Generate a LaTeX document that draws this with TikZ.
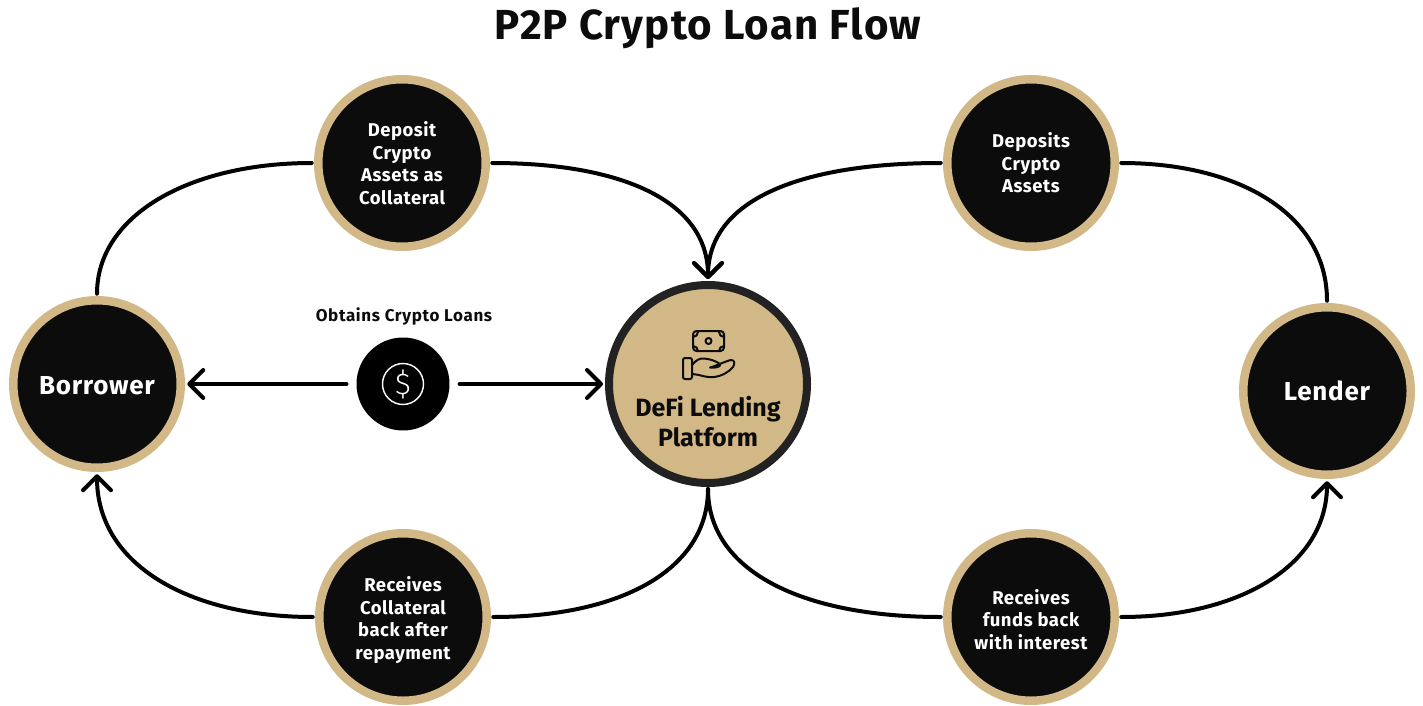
\documentclass[tikz,border=0pt]{standalone}
\usepackage{fontspec}
\setmainfont{Fira Sans}
\newfontfamily\spacedtitle[LetterSpace=2.7]{Fira Sans}
\newfontfamily\spacedbody[LetterSpace=2.8]{Fira Sans}
\newfontfamily\spacedcap[LetterSpace=3.8]{Fira Sans}
\usetikzlibrary{arrows.meta}
\definecolor{gold}{HTML}{D2B886}
\definecolor{ink}{HTML}{0C0C0C}
\definecolor{ringdark}{HTML}{222222}
\tikzset{
  x=1pt,y=-1pt,
  disc/.style={circle,draw=gold,fill=ink,line width=8.5pt,minimum size=167.5pt,inner sep=0pt,outer sep=6.5pt},
  disctext/.style={text=white,align=center,font=\spacedbody\bfseries\fontsize{18.5}{22.5}\selectfont},
  actortext/.style={text=white,align=center,font=\spacedbody\bfseries\fontsize{26}{30}\selectfont},
  hub/.style={circle,draw=ringdark,fill=gold,line width=8pt,minimum size=198pt,inner sep=0pt,outer sep=6pt},
  coin/.style={circle,fill=black,minimum size=93pt,inner sep=0pt,outer sep=0pt},
  flow/.style={line width=4pt,draw=black,line cap=round},
  tip/.style={-{Straight Barb[length=14pt,width=28pt,line width=4pt,round]}},
  glyph/.style={draw=ink,line width=2pt,line join=round,line cap=round},
}
\begin{document}
\begin{tikzpicture}
\useasboundingbox (0,0) rectangle (1423,706);
\node[font=\spacedtitle\bfseries\fontsize{42}{46}\selectfont,text=ink] (title) at (708,28) {P2P Crypto Loan Flow};
\node[disc] (borrower) at (97,384) {};
\node[actortext] (borrowerlabel) at (97,385.5) {Borrower};
\node[disc] (lender) at (1327,391) {};
\node[actortext] (lenderlabel) at (1327,391) {Lender};
\node[disc] (collat) at (402,163) {};
\node[disctext] (collatlabel) at (402,163) {Deposit\\Crypto\\Assets as\\Collateral};
\node[disc] (deposits) at (1031,163) {};
\node[disctext] (depositslabel) at (1031,163) {Deposits\\Crypto\\Assets};
\node[disc] (backcol) at (403,617) {};
\node[disctext] (backcollabel) at (403,620) {Receives\\Collateral\\back after\\repayment};
\node[disc] (backfund) at (1031,617) {};
\node[disctext] (backfundlabel) at (1031,619.5) {Receives\\funds back\\with interest};
\node[hub] (hub) at (708,384) {};
\node[font=\bfseries\fontsize{25}{30}\selectfont,text=ink,align=center] (hublabel) at (708,422) {DeFi Lending\\Platform};
\node[coin] (coin) at (403,384) {};
\node[circle,draw=white,line width=1.4pt,minimum size=41pt,inner sep=0pt,text=white,font=\fontsize{30}{30}\selectfont] (dollar) at (403,384) {\fontspec{Fira Sans Light}\$};
\node[font=\spacedcap\bfseries\fontsize{17}{20}\selectfont,text=ink] (obtains) at (404,316) {Obtains Crypto Loans};
% connectors
\draw[flow] (borrower.north) .. controls (97,215) and (190,163) .. (collat.west);
\draw[flow,tip] (collat.east) .. controls (620,163) and (708,200) .. (hub.north);
\draw[flow] (lender.north) .. controls (1327,215) and (1240,163) .. (deposits.east);
\draw[flow,tip] (deposits.west) .. controls (800,163) and (708,200) .. (hub.north);
\draw[flow] (hub.south) .. controls (708,570) and (620,617) .. (backcol.east);
\draw[flow,tip] (backcol.west) .. controls (190,617) and (97,565) .. (borrower.south);
\draw[flow] (hub.south) .. controls (708,570) and (800,617) .. (backfund.west);
\draw[flow,tip] (backfund.east) .. controls (1240,617) and (1327,565) .. (lender.south);
\draw[flow,tip,shorten <=10pt] (coin.west) -- (borrower.east);
\draw[flow,tip,shorten <=10pt] (coin.east) -- (hub.west);
% icon
\draw[glyph,rounded corners=3.5pt] (693,331) rectangle (724,351);
\draw[glyph] (708.5,341) circle (3pt);
\draw[glyph] (693,337) arc (-90:0:5pt);
\draw[glyph] (724,337) arc (-90:-180:5pt);
\draw[glyph] (693,346) arc (90:0:5pt);
\draw[glyph] (724,346) arc (90:180:5pt);
\draw[glyph,rounded corners=2pt] (683,358) rectangle (692,379);
\draw[glyph] (692,365) .. controls (696,360) and (700,358) .. (704,358.5) .. controls (710,359) and (716,361) .. (720,364) .. controls (721,367) and (716,368) .. (710,367.5) .. controls (716,366) and (726,361) .. (731,360) .. controls (735,360) and (735,364) .. (733,367) .. controls (729,372) and (722,376) .. (714,377) .. controls (706,378) and (698,374) .. (692,374);
\end{tikzpicture}
\end{document}
